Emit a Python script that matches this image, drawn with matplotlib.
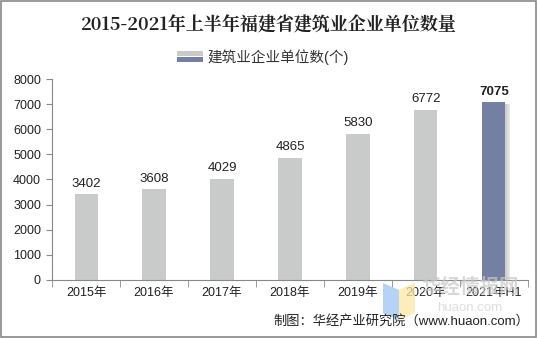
import matplotlib.pyplot as plt
from matplotlib.patches import Rectangle, Polygon
from matplotlib.legend_handler import HandlerBase

plt.rcParams['font.family'] = ['Liberation Sans', 'Noto Sans CJK SC', 'DejaVu Sans']

years = ['2015年', '2016年', '2017年', '2018年', '2019年', '2020年', '2021年H1']
counts = [3402, 3608, 4029, 4865, 5830, 6772, 7075]

gray = '#c8cbca'
blue = '#737fa3'
colors = [gray] * (len(counts) - 1) + [blue]


class TwoTone(HandlerBase):
    # legend key: gray on top, blue underneath
    def create_artists(self, legend, orig, x0, y0, w, h, fontsize, trans):
        top = Rectangle((x0, y0 + h * 0.55), w, h * 0.45, fc=gray, ec='none', transform=trans)
        bot = Rectangle((x0, y0), w, h * 0.42, fc=blue, ec='none', transform=trans)
        return [top, bot]


fig = plt.figure(figsize=(5.37, 3.38), dpi=100)
ax = fig.add_axes([0.097, 0.172, 0.886, 0.594])

x = list(range(len(counts)))
# soft shadow on the right of the last bar
for k, c in enumerate(['#cfcfcf', '#dddddd', '#eaeaea']):
    ax.bar(x[-1] + 0.03 + 0.02 * k, counts[-1] - 60, width=0.34, color=c, zorder=1 - 0.1 * k,
           align='center')
bars = ax.bar(x, counts, width=0.34, color=colors, zorder=2)

for i, (b, v) in enumerate(zip(bars, counts)):
    ax.text(b.get_x() + b.get_width() / 2, v + 180, str(v), ha='center', va='bottom',
            fontsize=9.5, color='#222222', fontweight='bold' if i == len(counts) - 1 else 'normal')

ax.set_xlim(-0.5, len(counts) - 0.5)
ax.set_ylim(0, 8000)
ax.set_yticks(range(0, 8001, 1000))
ax.set_xticks(x)
ax.set_xticklabels(years)
ax.set_xticks([i - 0.5 for i in range(len(counts) + 1)], minor=True)
ax.tick_params(axis='x', which='major', length=0, pad=5, labelsize=9, colors='#222222')
ax.tick_params(axis='x', which='minor', length=5, color='#888888')
ax.tick_params(axis='y', length=4, color='#888888', labelsize=9, labelcolor='#222222', pad=4)
for s in ['top', 'right']:
    ax.spines[s].set_visible(False)
for s in ['left', 'bottom']:
    ax.spines[s].set_color('#888888')

fig.text(0.5, 0.925, '2015-2021年上半年福建省建筑业企业单位数量', ha='center', va='center',
         fontsize=13, fontweight='bold', color='#222222', family=['Noto Serif CJK SC', 'Noto Sans CJK SC'])

leg = fig.legend([Rectangle((0, 0), 1, 1)], ['建筑业企业单位数(个)'],
                 handler_map={Rectangle: TwoTone()}, loc='center', bbox_to_anchor=(0.49, 0.83),
                 frameon=False, fontsize=10.5, handlelength=1.8, handleheight=0.8, handletextpad=0.3)
for t in leg.get_texts():
    t.set_color('#333333')

# watermark logo and text
W, H = 537.0, 338.0
def fpoly(pts, color):
    fig.patches.append(Polygon([(px / W, 1 - py / H) for px, py in pts], closed=True,
                               transform=fig.transFigure, fc=color, ec='none', alpha=0.75, zorder=0))
fpoly([(383, 283), (399, 290), (399, 320), (383, 313)], '#9cc3f5')
fpoly([(399, 290), (415, 283), (415, 313), (399, 320)], '#fbe7a3')
fig.text(470 / W, 1 - 287 / H, '华经情报网', ha='center', va='center', fontsize=14, fontweight='bold',
         color='#c8c8c8', alpha=0.7, zorder=0)
fig.text(470 / W, 1 - 308 / H, 'huaon.com', ha='center', va='center', fontsize=9.5,
         color='#d0d0d0', alpha=0.7, zorder=0)

fig.text(0.985, 0.05, '制图：华经产业研究院（www.huaon.com）', ha='right', va='center',
         fontsize=9.5, color='#222222')

fig.patches.append(Rectangle((0.002, 0.003), 0.996, 0.994, transform=fig.transFigure,
                             fill=False, ec='#888888', lw=1.2))

fig.savefig('out.png', dpi=100)
